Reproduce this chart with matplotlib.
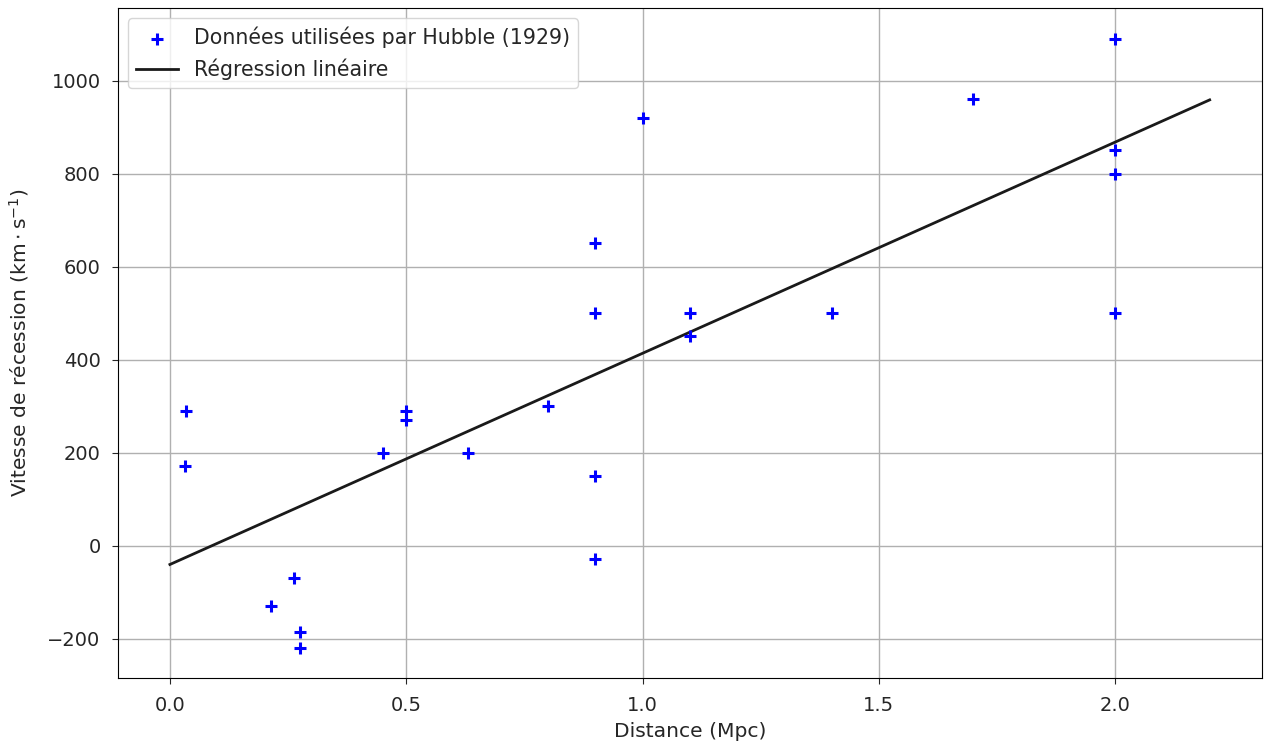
import numpy as np
import matplotlib
matplotlib.use("Agg")
import matplotlib.pyplot as plt

# Hubble (1929) data
distance = [0.032, 0.034, 0.214, 0.263, 0.275, 0.275, 0.45, 0.5, 0.5, 0.63, 0.8, 0.9,
            0.9, 0.9, 0.9, 1.0, 1.1, 1.1, 1.4, 1.7, 2.0, 2.0, 2.0, 2.0]
velocity = [170, 290, -130, -70, -185, -220, 200, 290, 270, 200, 300, -30,
            650, 150, 500, 920, 450, 500, 500, 960, 500, 850, 800, 1090]
fit_range = [0.0, 2.2]

plt.rcParams['font.size'] = 14
plt.rcParams['text.color'] = '#262626'
plt.rcParams['axes.labelcolor'] = '#262626'
plt.rcParams['xtick.color'] = '#262626'
plt.rcParams['ytick.color'] = '#262626'

x = np.array(distance)
y = np.array(velocity)
slope, intercept = np.polyfit(x, y, 1)
xf = np.array(fit_range)

fig = plt.figure(figsize=(12.68, 7.47), dpi=100)
ax = fig.add_axes([0.093, 0.092, 0.902, 0.897])
ax.scatter(x, y, marker='+', color='blue', s=70, linewidths=2.2,
           label='Données utilisées par Hubble (1929)', zorder=3)
ax.plot(xf, slope * xf + intercept, color='#1a1a1a', lw=2, label='Régression linéaire')
ax.grid(True, color='#b0b0b0', lw=1)
ax.set_axisbelow(True)
ax.tick_params(length=4, pad=8.5)
ax.set_xlabel('Distance (Mpc)', fontsize=14.6, labelpad=5)
ax.set_ylabel(r'Vitesse de récession ($\mathrm{km}\cdot\mathrm{s}^{-1}$)', fontsize=14.6, labelpad=12)
ax.legend(loc='upper left', fontsize=14.8)

fig.savefig('out.png', dpi=100)
